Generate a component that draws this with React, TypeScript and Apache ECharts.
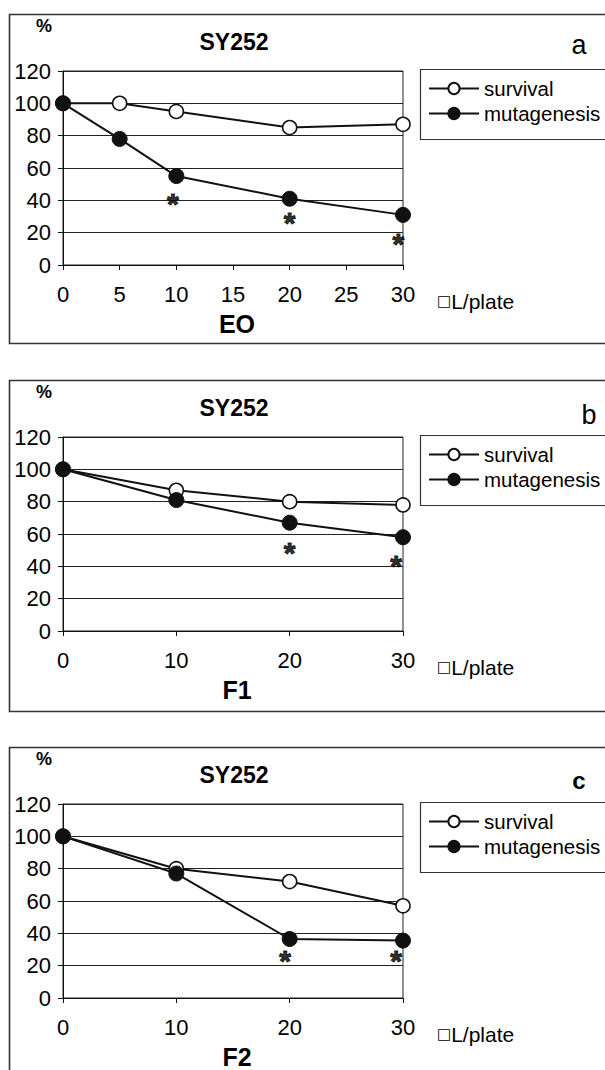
import React, { useEffect, useRef } from "react";
import * as echarts from "echarts";

// ---- data ----
const panelLetters = ["a", "b", "c"];
const panelSubtitles = ["EO", "F1", "F2"];
const strainTitle = "SY252";
const seriesNames = ["survival", "mutagenesis"];
const xIntervals = [5, 10, 10];

const doseA = [0, 5, 10, 20, 30];
const survivalA = [100, 100, 95, 85, 87];
const mutagenesisA = [100, 78, 55, 41, 31];
const starDoseA = [9.7, 20, 29.6];
const starLevelA = [42, 30, 17];

const doseB = [0, 10, 20, 30];
const survivalB = [100, 87, 80, 78];
const mutagenesisB = [100, 81, 67, 58];
const starDoseB = [20, 29.4];
const starLevelB = [52, 44];

const doseC = [0, 10, 20, 30];
const survivalC = [100, 80, 72, 57];
const mutagenesisC = [100, 77, 36.5, 35.5];
const starDoseC = [19.6, 29.4];
const starLevelC = [27, 27];

const doses = [doseA, doseB, doseC];
const survivals = [survivalA, survivalB, survivalC];
const mutagenesis = [mutagenesisA, mutagenesisB, mutagenesisC];
const starDoses = [starDoseA, starDoseB, starDoseC];
const starLevels = [starLevelA, starLevelB, starLevelC];

// ---- layout ----
const FONT = "Liberation Sans, Arial, Helvetica, sans-serif";
const boxTops = [14, 380, 747];
const boxHeights = [329, 331, 340];
const GRID_LEFT = 63;
const GRID_W = 340;
const GRID_H = 194;
const INK = "#111";

const pair = (xs: number[], ys: number[]) => xs.map((x, i) => [x, ys[i]]);

export default function App() {
  const ref = useRef<HTMLDivElement>(null);
  useEffect(() => {
    if (!ref.current) return;
    const chart = echarts.init(ref.current, null, { renderer: "svg" });

    const grid: any[] = [];
    const xAxis: any[] = [];
    const yAxis: any[] = [];
    const series: any[] = [];
    const legend: any[] = [];
    const graphic: any[] = [];

    for (let p = 0; p < 3; p++) {
      const top = boxTops[p];
      grid.push({
        left: GRID_LEFT,
        top: top + 57,
        width: GRID_W,
        height: GRID_H,
        show: true,
        borderColor: "#222",
        borderWidth: 1,
        backgroundColor: "transparent",
      });
      xAxis.push({
        type: "value",
        gridIndex: p,
        min: 0,
        max: 30,
        interval: xIntervals[p],
        axisLine: { show: true, lineStyle: { color: INK, width: 1 } },
        axisTick: { show: true, inside: false, length: 5, lineStyle: { color: INK } },
        splitLine: { show: false },
        axisLabel: { color: "#000", fontSize: 22, fontFamily: FONT, margin: 18 },
      });
      yAxis.push({
        type: "value",
        gridIndex: p,
        min: 0,
        max: 120,
        interval: 20,
        axisLine: { show: true, lineStyle: { color: INK, width: 1 } },
        axisTick: { show: true, inside: false, length: 5, lineStyle: { color: INK } },
        splitLine: { show: true, lineStyle: { color: "#222", width: 1.2 } },
        axisLabel: { color: "#000", fontSize: 22, fontFamily: FONT, margin: 12 },
      });
      series.push({
        name: seriesNames[0],
        type: "line",
        xAxisIndex: p,
        yAxisIndex: p,
        data: pair(doses[p], survivals[p]),
        symbol: "circle",
        symbolSize: 14,
        showAllSymbol: true,
        lineStyle: { color: INK, width: 2 },
        itemStyle: { color: "#fff", borderColor: INK, borderWidth: 1.6 },
        z: 3,
      });
      series.push({
        name: seriesNames[1],
        type: "line",
        xAxisIndex: p,
        yAxisIndex: p,
        data: pair(doses[p], mutagenesis[p]),
        symbol: "circle",
        symbolSize: 15,
        showAllSymbol: true,
        lineStyle: { color: INK, width: 2 },
        itemStyle: { color: INK, borderColor: INK, borderWidth: 1 },
        z: 4,
      });
      series.push({
        name: "significance",
        type: "scatter",
        xAxisIndex: p,
        yAxisIndex: p,
        data: pair(starDoses[p], starLevels[p]),
        symbolSize: 0,
        silent: true,
        itemStyle: { color: "#000" },
        label: {
          show: true,
          position: "top",
          distance: 0,
          formatter: "*",
          fontSize: 30,
          lineHeight: 30,
          fontWeight: "bold",
          fontFamily: FONT,
          color: "#000",
          textBorderColor: "#000",
          textBorderWidth: 1,
          offset: [0, 21],
        },
        z: 5,
      });
      legend.push({
        orient: "vertical",
        left: 428,
        top: top + 64,
        itemWidth: 50,
        itemHeight: 14,
        itemGap: 4,
        padding: 0,
        selectedMode: false,
        data: seriesNames,
        textStyle: { fontSize: 20.5, fontFamily: FONT, color: "#000" },
      });

      // panel frame
      graphic.push({
        type: "rect",
        shape: { x: 9.5, y: top + 0.5, width: 620, height: boxHeights[p] },
        style: { fill: "none", stroke: "#333", lineWidth: 1.6 },
        silent: true,
      });
      // legend frame
      graphic.push({
        type: "rect",
        shape: { x: 420.5, y: top + 55.5, width: 200, height: 70 },
        style: { fill: "none", stroke: "#333", lineWidth: 1.2 },
        silent: true,
        z: -1,
      });
      graphic.push({
        type: "text",
        x: 44,
        y: top + 12,
        style: { text: "%", fontSize: 18, fontWeight: "bold", fontFamily: FONT, fill: "#000", align: "center", verticalAlign: "middle" },
      });
      graphic.push({
        type: "text",
        x: 234,
        y: top + 28,
        style: { text: strainTitle, fontSize: 23, fontWeight: "bold", fontFamily: FONT, fill: "#000", align: "center", verticalAlign: "middle" },
      });
      graphic.push({
        type: "text",
        x: p === 1 ? 589 : 579,
        y: top + (p === 0 ? 31 : p === 1 ? 35 : 33),
        style: {
          text: panelLetters[p],
          fontSize: p === 2 ? 24 : 27,
          fontWeight: p === 2 ? "bold" : "normal",
          fontFamily: FONT,
          fill: "#000",
          align: "center",
          verticalAlign: "middle",
        },
      });
      graphic.push({
        type: "text",
        x: 437,
        y: top + 287,
        style: {
          text: "{box|□}L/plate",
          fontSize: 21,
          fontFamily: FONT,
          fill: "#000",
          align: "left",
          verticalAlign: "middle",
          rich: { box: { fontSize: 15, fontFamily: "DejaVu Sans", fill: "#000" } },
        },
      });
      graphic.push({
        type: "text",
        x: 237,
        y: top + 310,
        style: {
          text: panelSubtitles[p],
          fontSize: 25,
          lineHeight: 20,
          fontWeight: "bold",
          fontFamily: FONT,
          fill: "#000",
          align: "center",
          verticalAlign: "middle",
        },
      });
    }

    chart.setOption({
      animation: false,
      backgroundColor: "#fff",
      grid,
      xAxis,
      yAxis,
      series,
      legend,
      graphic,
    });
    return () => chart.dispose();
  }, []);

  return (
    <div
      ref={ref}
      style={{ position: "absolute", left: 0, top: 0, width: 605, height: 1070 }}
    />
  );
}
